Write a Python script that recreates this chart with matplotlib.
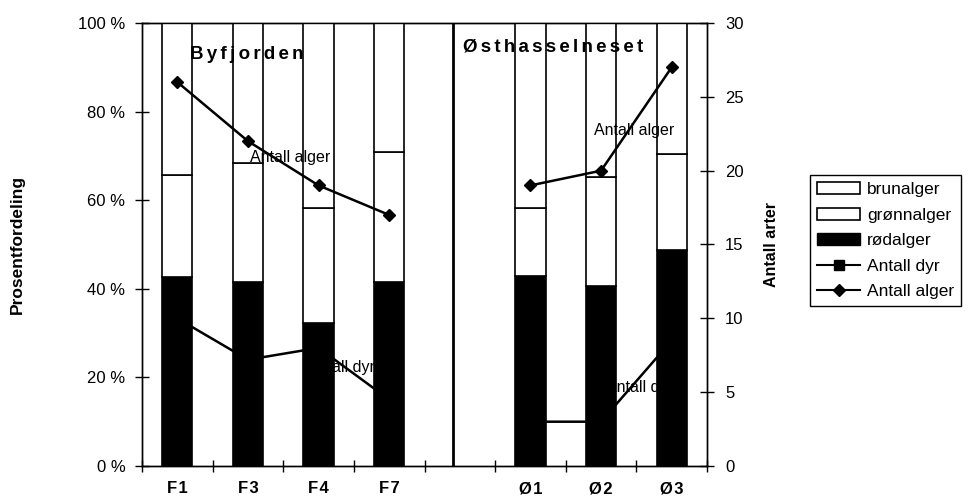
import numpy as np
import matplotlib.pyplot as plt
from matplotlib.patches import Patch
from matplotlib.lines import Line2D
from matplotlib.ticker import FuncFormatter

plt.rcParams['font.family'] = ['Liberation Sans', 'DejaVu Sans']

categories = ["F1", "F3", "F4", "F7", "", "Ø1", "Ø2", "Ø3"]
rodalger = [42.7, 41.5, 32.3, 41.5, None, 42.9, 40.6, 48.8]
gronnalger = [23.0, 26.9, 25.9, 29.4, None, 15.3, 24.6, 21.6]
antall_dyr = [10, 7.2, 8, 4.5, np.nan, 3, 3, 8.5]
antall_alger = [26, 22, 19, 17, np.nan, 19, 20, 27]

idx = [i for i, v in enumerate(rodalger) if v is not None]
rod = np.array([rodalger[i] for i in idx])
gronn = np.array([gronnalger[i] for i in idx])
brun = 100 - rod - gronn
x = np.arange(len(categories))


def spread(s, n=2):
    return ("\u200a" * n).join(s)


fig = plt.figure(figsize=(9.7, 4.98), dpi=100)
ax = fig.add_axes([142 / 970, 1 - 466 / 498, (707 - 142) / 970, (466 - 23) / 498])
ax2 = ax.twinx()

w = 0.43
ax.bar(idx, rod, w, color="black", edgecolor="black", linewidth=1.2, zorder=3)
ax.bar(idx, gronn, w, bottom=rod, color="white", edgecolor="black", linewidth=1.2, zorder=3)
ax.bar(idx, brun, w, bottom=rod + gronn, color="white", edgecolor="black", linewidth=1.2, zorder=3)
ax.plot([3.905, 3.905], [0, 100], color="black", linewidth=2, zorder=3)

# labels partly hidden behind the bars
ax.text(2.33, 22.3, "Antall dyr", fontsize=11.5, ha="center", va="center", zorder=1)
ax.text(6.55, 17.8, "Antall dyr", fontsize=11.5, ha="center", va="center", zorder=1)

ax.set_xlim(-0.5, 7.5)
ax.set_ylim(0, 100)
ax.set_yticks(np.arange(0, 101, 20))
ax.yaxis.set_major_formatter(FuncFormatter(lambda v, p: f"{v:.0f} %"))
ax.set_xticks(np.arange(-0.5, 7.6, 1))
ax.set_xticklabels([])
ax.set_xticks(x, minor=True)
ax.set_xticklabels([spread(c, 1) for c in categories], minor=True, fontweight="bold", fontsize=12)
ax.tick_params(axis="x", which="minor", length=0, pad=11)
ax.tick_params(axis="x", which="major", direction="inout", length=9, width=1)
ax.tick_params(axis="y", direction="inout", length=10, width=1, labelsize=12, pad=7)
ax.set_ylabel("Prosentfordeling", fontsize=12.5, fontweight="bold")
ax.yaxis.set_label_coords(-0.207, 0.5)

ax2.plot(x, antall_dyr, color="black", linewidth=1.8, marker="s", markersize=6, zorder=4)
ax2.plot(x, antall_alger, color="black", linewidth=1.8, marker="D", markersize=6, zorder=4)
ax2.set_ylim(0, 30)
ax2.set_yticks(np.arange(0, 31, 5))
ax2.tick_params(axis="y", direction="inout", length=10, width=1, labelsize=12, pad=8)
ax2.set_ylabel("Antall arter", fontsize=11.5, fontweight="bold")
ax2.yaxis.set_label_coords(1.1, 0.5)

ax2.text(1.03, 20.9, "Antall alger", fontsize=11.5, ha="left", va="center")
ax2.text(5.9, 22.7, "Antall alger", fontsize=11.5, ha="left", va="center")
ax2.text(0.18, 27.9, spread("Byfjorden"), fontsize=13.5, fontweight="bold", ha="left", va="center")
ax2.text(4.05, 28.35, spread("Østhasselneset"), fontsize=13.5, fontweight="bold", ha="left", va="center")

for a in (ax, ax2):
    for s in a.spines.values():
        s.set_linewidth(1)

handles = [
    Patch(facecolor="white", edgecolor="black", linewidth=1.2, label="brunalger"),
    Patch(facecolor="white", edgecolor="black", linewidth=1.2, label="grønnalger"),
    Patch(facecolor="black", edgecolor="black", label="rødalger"),
    Line2D([], [], color="black", linewidth=1.5, marker="s", markersize=7, label="Antall dyr"),
    Line2D([], [], color="black", linewidth=1.5, marker="D", markersize=6, label="Antall alger"),
]
leg = fig.legend(handles=handles, loc="upper left", bbox_to_anchor=(810 / 970, 1 - 175 / 498),
                 fontsize=12.5, frameon=True, fancybox=False, framealpha=1, edgecolor="black",
                 handlelength=2.5, handleheight=0.7, handletextpad=0.4, labelspacing=0.6,
                 borderpad=0.4, borderaxespad=0)
leg.get_frame().set_linewidth(1)

fig.savefig("out.png", dpi=100)
